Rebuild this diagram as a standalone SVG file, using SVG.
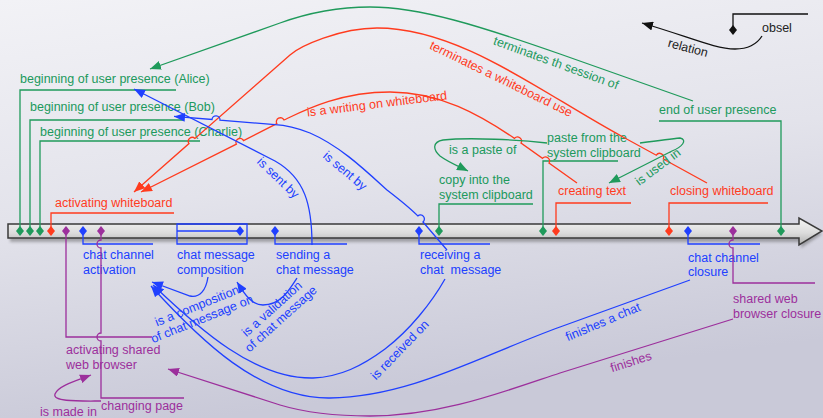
<svg xmlns="http://www.w3.org/2000/svg" width="823" height="418" viewBox="0 0 823 418">
  <defs>
    <linearGradient id="bg" x1="0" y1="0" x2="0.25" y2="1">
      <stop offset="0" stop-color="#f2f2f6"/>
      <stop offset="0.5" stop-color="#e3e3eb"/>
      <stop offset="1" stop-color="#c9c9d8"/>
    </linearGradient>
    <linearGradient id="barFill" x1="0" y1="0" x2="0" y2="1">
      <stop offset="0" stop-color="#f6f6f6"/>
      <stop offset="0.55" stop-color="#dcdcdc"/>
      <stop offset="1" stop-color="#b0b0b0"/>
    </linearGradient>
    <filter id="soft" x="-5%" y="-60%" width="110%" height="220%">
      <feGaussianBlur stdDeviation="1.6"/>
    </filter>
    <path id="dia" d="M0,-5 L4,0 L0,5 L-4,0 Z"/>
    <marker id="mG" viewBox="0 0 11 9" refX="11" refY="4.5" markerWidth="11" markerHeight="9" markerUnits="userSpaceOnUse" orient="auto"><path d="M0,0 L11,4.5 L0,9 Z" fill="#1f9a5b"/></marker>
    <marker id="mR" viewBox="0 0 11 9" refX="11" refY="4.5" markerWidth="11" markerHeight="9" markerUnits="userSpaceOnUse" orient="auto"><path d="M0,0 L11,4.5 L0,9 Z" fill="#ff3b1e"/></marker>
    <marker id="mB" viewBox="0 0 11 9" refX="11" refY="4.5" markerWidth="11" markerHeight="9" markerUnits="userSpaceOnUse" orient="auto"><path d="M0,0 L11,4.5 L0,9 Z" fill="#2040ff"/></marker>
    <marker id="mP" viewBox="0 0 11 9" refX="11" refY="4.5" markerWidth="11" markerHeight="9" markerUnits="userSpaceOnUse" orient="auto"><path d="M0,0 L11,4.5 L0,9 Z" fill="#9c2f9c"/></marker>
    <marker id="mK" viewBox="0 0 11 9" refX="11" refY="4.5" markerWidth="11" markerHeight="9" markerUnits="userSpaceOnUse" orient="auto"><path d="M0,0 L11,4.5 L0,9 Z" fill="#111"/></marker>
  </defs>
  <style>
    text { font-family: "Liberation Sans", Arial, Helvetica, sans-serif; font-size: 12.5px; }
    .g { fill: #20995c; } .r { fill: #ff3b1e; } .b { fill: #2040ff; } .p { fill: #9c2f9c; } .k { fill: #222; }
    .lg, .lr, .lb, .lp, .lk { fill: none; stroke-width: 1.3; }
    .lg { stroke: #1f9a5b; } .lr { stroke: #ff3b1e; } .lb { stroke: #2040ff; } .lp { stroke: #9c2f9c; } .lk { stroke: #111; }
    .cg { marker-end: url(#mG); } .cr { marker-end: url(#mR); } .cb { marker-end: url(#mB); } .cp { marker-end: url(#mP); } .ck { marker-end: url(#mK); }
    .mid { text-anchor: middle; }
  </style>

  <!-- backdrop -->
  <rect width="823" height="418" fill="url(#bg)"/>

  <!-- time axis -->
  <g id="timeline">
    <path d="M10,227 H801 V221 L822,234 L801,248 V242 H10 Z" fill="#555" opacity="0.45" filter="url(#soft)"/>
    <path d="M8,224 H799 V218 L822,231 L799,245 V238 H8 Z" fill="url(#barFill)" stroke="#3a3a3a" stroke-width="1.5" stroke-linejoin="miter"/>
  </g>

  <!-- obsels above the axis -->
  <g id="presence-alice">
    <path class="lg" d="M20,231 V90 H176"/>
    <text class="g" x="20" y="83">beginning of user presence (Alice)</text>
    <use href="#dia" x="20" y="231" fill="#1f9a5b"/>
  </g>
  <g id="presence-bob">
    <path class="lg" d="M30,231 V120 H184"/>
    <text class="g" x="30" y="111">beginning of user presence (Bob)</text>
    <use href="#dia" x="30" y="231" fill="#1f9a5b"/>
  </g>
  <g id="presence-charlie">
    <path class="lg" d="M40,231 V141 H200"/>
    <text class="g" x="40" y="136">beginning of user presence (Charlie)</text>
    <use href="#dia" x="40" y="231" fill="#1f9a5b"/>
  </g>
  <g id="activating-whiteboard">
    <path class="lr" d="M51,231 V213 H174"/>
    <text class="r" x="55" y="207">activating whiteboard</text>
    <use href="#dia" x="51" y="231" fill="#ff3b1e"/>
  </g>
  <g id="copy-clipboard">
    <path class="lg" d="M439,231 V204 H533"/>
    <text class="g" x="439" y="184">copy into the</text>
    <text class="g" x="439" y="199">system clipboard</text>
    <use href="#dia" x="439" y="231" fill="#1f9a5b"/>
  </g>
  <g id="paste-clipboard">
    <path class="lg" d="M543,231 V161 H618"/>
    <text class="g" x="547" y="142">paste from the</text>
    <text class="g" x="547" y="157">system clipboard</text>
    <use href="#dia" x="543" y="231" fill="#1f9a5b"/>
  </g>
  <g id="creating-text">
    <path class="lr" d="M556,231 V203 H631"/>
    <text class="r" x="558" y="195">creating text</text>
    <use href="#dia" x="556" y="231" fill="#ff3b1e"/>
  </g>
  <g id="closing-whiteboard">
    <path class="lr" d="M669,231 V203 H768"/>
    <text class="r" x="670" y="195">closing whiteboard</text>
    <use href="#dia" x="669" y="231" fill="#ff3b1e"/>
  </g>
  <g id="presence-end">
    <path class="lg" d="M781,231 V121 H659"/>
    <text class="g" x="659" y="114">end of user presence</text>
    <use href="#dia" x="781" y="231" fill="#1f9a5b"/>
  </g>

  <!-- obsels below the axis -->
  <g id="chat-activation">
    <path class="lb" d="M83,231 V244 H153"/>
    <text class="b" x="83" y="259">chat channel</text>
    <text class="b" x="83" y="274">activation</text>
    <use href="#dia" x="83" y="231" fill="#2040ff"/>
  </g>
  <g id="message-composition">
    <path class="lb" d="M177,224 H247 V244 H177 Z M177,231 H240"/>
    <text class="b" x="177" y="259">chat message</text>
    <text class="b" x="177" y="274">composition</text>
    <use href="#dia" x="240" y="231" fill="#2040ff"/>
  </g>
  <g id="sending-message">
    <path class="lb" d="M275,231 V244 H347"/>
    <text class="b" x="276" y="259">sending a</text>
    <text class="b" x="276" y="274">chat message</text>
    <use href="#dia" x="275" y="231" fill="#2040ff"/>
  </g>
  <g id="receiving-message">
    <path class="lb" d="M419,231 V244 H490"/>
    <text class="b" x="420" y="259">receiving a</text>
    <text class="b" x="420" y="274" xml:space="preserve">chat  message</text>
    <use href="#dia" x="419" y="231" fill="#2040ff"/>
  </g>
  <g id="chat-closure">
    <path class="lb" d="M688,231 V244 H760"/>
    <text class="b" x="688" y="262">chat channel</text>
    <text class="b" x="688" y="276">closure</text>
    <use href="#dia" x="688" y="231" fill="#2040ff"/>
  </g>
  <g id="browser-activation">
    <path class="lp" d="M66,231 V337 H152"/>
    <text class="p" x="66" y="354">activating shared</text>
    <text class="p" x="66" y="369">web browser</text>
    <use href="#dia" x="66" y="231" fill="#9c2f9c"/>
  </g>
  <g id="changing-page">
    <path class="lp" d="M101,231 V240 a4,4 0 0 0 0,8 V333 a4,4 0 0 0 0,8 V398 H184"/>
    <text class="p" x="101" y="410">changing page</text>
    <use href="#dia" x="101" y="231" fill="#9c2f9c"/>
  </g>
  <g id="browser-closure">
    <path class="lp" d="M733,231 V240 a4,4 0 0 0 0,8 V283 H815"/>
    <text class="p" x="733" y="303">shared web</text>
    <text class="p" x="733" y="318">browser closure</text>
    <use href="#dia" x="733" y="231" fill="#9c2f9c"/>
  </g>

  <!-- relations between obsels -->
  <g id="connectors">
    <path class="lg cg" d="M693,101 L560,54 C480,26 420,7 370,7 C335,7 305,14 280,23 L150,69"/>
    <text class="g mid" transform="translate(556,63) rotate(20)" y="4">terminates th session of</text>

    <path class="lr cr" d="M707,183 L663.3,159 a4,4 0 0 0 -7,-3.8 L623,137 C540,92 460,28 377,28 C340,28 300,46 290,55 L195,138.4 a4,4 0 0 0 -6,5.2 L134,192"/>
    <text class="r mid" transform="translate(501,79) rotate(26)" y="4">terminates a whiteboard use</text>

    <path class="lr cr" d="M577,183 L549,163 a4,4 0 0 0 -6.5,-4.6 L521,143 a4,4 0 0 0 -6.5,-4.6 C480,115 440,92 390,92 C340,92 305,110 284,120 a4,4 0 0 0 -7.2,3.6 L243.6,140.6 a4,4 0 0 0 -7.2,3.6 L141,192"/>
    <text class="r mid" transform="translate(377,104) rotate(-7)" y="4">is a writing on whiteboard</text>

    <path class="lg cg" d="M547,143 C520,140 470,137 443,140 C432,142 433,150 440,156 C448,162 458,166 468,171"/>
    <text class="g" x="449" y="154">is a paste of</text>

    <path class="lg cg" d="M640,143 C655,141 670,139 680,138 C688,140 682,147 672,151 L609,183"/>
    <text class="g mid" transform="translate(658,167) rotate(-37)" y="4">is used in</text>

    <path class="lb cb" d="M312,245 C312,205 305,178 275,161 L134,89"/>
    <text class="b mid" transform="translate(278,178) rotate(44)" y="4">is sent by</text>

    <path class="lb cb" d="M447,250 L423,222 a4,4 0 0 0 -5.2,-6.1 C410,208 400,200 387,190 C365,170 340,146 310,133 C295,127 285,125 275,124.6 L220,120.1 a4,4 0 0 0 -8,-0.6 L174,116.4"/>
    <text class="b mid" transform="translate(345,171) rotate(40)" y="4">is sent by</text>

    <path class="lb cb" d="M208,277 C206,290 200,298 190,296 L152,282"/>
    <text class="b mid" transform="translate(197,306) rotate(-22)" y="4">is a composition</text>
    <text class="b mid" transform="translate(202,319) rotate(-22)" y="4">of chat message on</text>

    <path class="lb cb" d="M297,278 C288,292 280,305 263,305 C251,305 244,293 237,282"/>
    <text class="b mid" transform="translate(272,309) rotate(-42)" y="4">is a validation</text>
    <text class="b mid" transform="translate(281,319) rotate(-42)" y="4">of chat message</text>

    <path class="lb cb" d="M445,279 C432,302 410,330 385,349 C362,366 340,377 313,378 C255,379 200,330 153,285"/>
    <text class="b mid" transform="translate(400,350) rotate(-46)" y="4">is received on</text>

    <path class="lb cb" d="M690,280 L560,327 C480,356 410,397 330,398 C260,399 200,340 151,286"/>
    <text class="b mid" transform="translate(603,322) rotate(-23)" y="4">finishes a chat</text>

    <path class="lp cp" d="M733,319 L560,373 C500,393 440,416 370,416 C330,416 300,411 280,405 L168,369"/>
    <text class="p mid" transform="translate(631,362) rotate(-18)" y="4">finishes</text>

    <path class="lp cp" d="M101,401 C80,401 52,402 55,394 C58,386 75,381 91,375"/>
    <text class="p" x="40" y="416">is made in</text>
  </g>

  <!-- key -->
  <g id="legend">
    <path class="lk" d="M808,14 H733 V30"/>
    <use href="#dia" x="733" y="30" fill="#111"/>
    <text class="k" x="762" y="32">obsel</text>
    <path class="lk ck" d="M762,36 C757,44 748,49 735,49 C715,49 690,37 642,23"/>
    <text class="k mid" transform="translate(688,48) rotate(15)" y="4">relation</text>
  </g>
</svg>
